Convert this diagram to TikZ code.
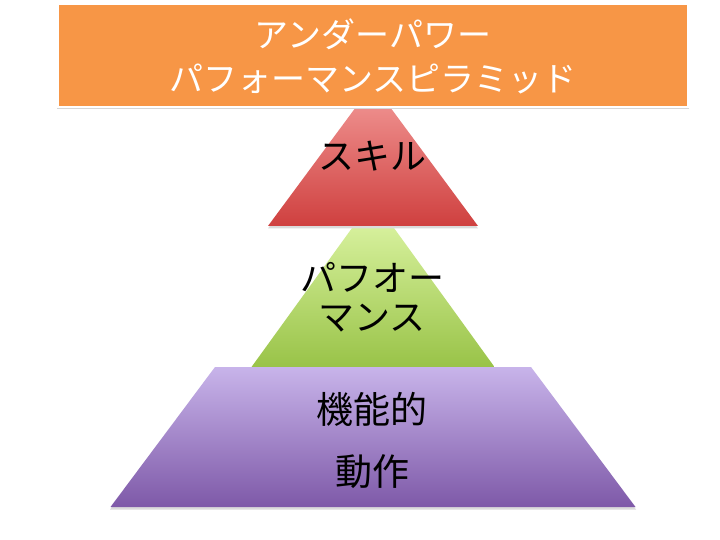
\documentclass[tikz,border=0pt]{standalone}
\usepackage{fontspec}
\newfontfamily\jpfont{Noto Sans CJK JP}
\definecolor{orangebox}{HTML}{F79646}
\definecolor{redtop}{HTML}{F39B99}
\definecolor{redbot}{HTML}{CF403F}
\definecolor{greentop}{HTML}{E2F9AC}
\definecolor{greenbot}{HTML}{99C348}
\definecolor{purptop}{HTML}{C8B4EA}
\definecolor{purpbot}{HTML}{7E59A8}
\tikzset{
  shadowshape/.style={fill=black!14},
  pyrtext/.style={font=\jpfont\fontsize{36}{39}\selectfont, text=black, align=center, inner sep=0pt},
  titletext/.style={font=\jpfont\fontsize{34}{44}\selectfont, text=white, align=center, inner sep=0pt}
}
\begin{document}
\begin{tikzpicture}[x=1pt,y=-1pt]
\useasboundingbox (0,0) rectangle (720,540);
\fill[white] (0,0) rectangle (720,540);
% green triangle
\fill[shadowshape] (251,369.5) -- (373,201.5) -- (495,369.5) -- cycle;
\shade[top color=greentop, bottom color=greenbot] (251.5,367) -- (373,199) -- (494.5,367) -- cycle;
% purple trapezoid
\fill[shadowshape] (110,509.5) -- (215,369.5) -- (531,369.5) -- (636,509.5) -- cycle;
\shade[top color=purptop, bottom color=purpbot] (110.5,507) -- (215,367) -- (531,367) -- (635.5,507) -- cycle;
% red triangle
\fill[shadowshape] (268,228.5) -- (373,86.5) -- (478,228.5) -- cycle;
\shade[top color=redtop, bottom color=redbot] (268,226) -- (373,84) -- (478,226) -- cycle;
% title box
\fill[black!16] (57,7) rectangle (689,109.5);
\fill[white] (57,3.5) rectangle (689,108);
\fill[orangebox] (59,5) rectangle (687,106);
\node[titletext] (title) at (373,56) {アンダーパワー\\パフォーマンスピラミッド};
% labels
\node[pyrtext] (skill) at (372,156) {スキル};
\node[pyrtext] (perf) at (372,297.5) {パフオー\\マンス};
\node[pyrtext, font=\jpfont\fontsize{37}{62}\selectfont] (func) at (372,440) {機能的\\動作};
\end{tikzpicture}
\end{document}
